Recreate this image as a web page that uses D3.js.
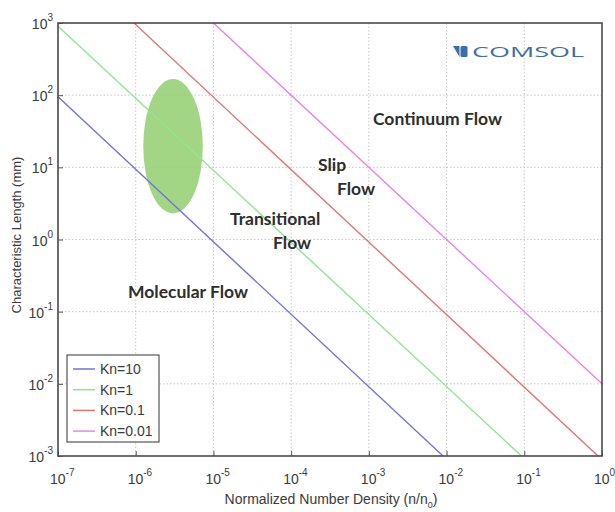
<!DOCTYPE html>
<html><head><meta charset="utf-8">
<script src="https://cdn.jsdelivr.net/npm/d3@7"></script>
<style>
body{margin:0;background:#fff;}
svg{display:block;}
</style></head>
<body>
<svg id="chart" width="615" height="512"></svg>
<script>
// ---- data ----
const seriesNames = ["Kn=10", "Kn=1", "Kn=0.1", "Kn=0.01"];
const seriesColors = ["#7272e0", "#8fe68f", "#e07676", "#e884e8"];
const kn10 = [[1e-7, 95], [9e-3, 1e-3]];
const kn1 = [[1e-7, 900], [9.2e-2, 1e-3]];
const kn01 = [[9.5e-7, 1000], [0.89, 1e-3]];
const kn001 = [[1e-5, 1000], [1, 1e-2]];
const seriesData = [kn10, kn1, kn01, kn001];
const xTickExps = [-7, -6, -5, -4, -3, -2, -1, 0];
const yTickExps = [-3, -2, -1, 0, 1, 2, 3];
// region label text lines, anchored at their left/baseline point in data units
const labelTexts = ["Continuum Flow", "Slip", "Flow", "Transitional", "Flow", "Molecular Flow"];
const labelN = [1.13e-3, 2.22e-4, 3.89e-4, 1.63e-5, 5.85e-5, 7.96e-7];
const labelL = [38.6, 8.9, 4.14, 1.59, 0.74, 0.155];
// highlighted region (ellipse) bounds in data units
const ellipseN = [1.25e-6, 7.3e-6];
const ellipseL = [2.3, 167];

// ---- layout ----
const svg = d3.select("#chart");
const m = {left: 58, top: 23, right: 602, bottom: 456};
const x = d3.scaleLog().domain([1e-7, 1]).range([m.left, m.right]);
const y = d3.scaleLog().domain([1e-3, 1e3]).range([m.bottom, m.top]);
const tickFont = "'Liberation Sans', Arial, sans-serif";
const tickColor = "#3a3a3a";

// grid
const grid = svg.append("g");
xTickExps.slice(1, -1).forEach(e => {
  grid.append("line").attr("x1", x(10 ** e)).attr("x2", x(10 ** e))
    .attr("y1", m.top).attr("y2", m.bottom)
    .attr("stroke", "#b8b8b8").attr("stroke-width", 0.8).attr("stroke-dasharray", "1.5,2");
});
yTickExps.slice(1, -1).forEach(e => {
  grid.append("line").attr("y1", y(10 ** e)).attr("y2", y(10 ** e))
    .attr("x1", m.left).attr("x2", m.right)
    .attr("stroke", "#b8b8b8").attr("stroke-width", 0.8).attr("stroke-dasharray", "1.5,2");
});

// axes with tick marks (inside), labels drawn separately with superscripts
const xAxis = d3.axisBottom(x).tickValues(xTickExps.map(e => 10 ** e)).tickSize(-5).tickFormat("");
const yAxis = d3.axisLeft(y).tickValues(yTickExps.map(e => 10 ** e)).tickSize(-5).tickFormat("");
const gx = svg.append("g").attr("transform", `translate(0,${m.bottom})`).call(xAxis);
const gy = svg.append("g").attr("transform", `translate(${m.left},0)`).call(yAxis);
[gx, gy].forEach(g => {
  g.select(".domain").remove();
  g.selectAll(".tick line").attr("stroke", "#555");
});

// ellipse region
const ex0 = x(ellipseN[0]), ex1 = x(ellipseN[1]);
const ey0 = y(ellipseL[1]), ey1 = y(ellipseL[0]);
svg.append("ellipse")
  .attr("cx", (ex0 + ex1) / 2).attr("cy", (ey0 + ey1) / 2)
  .attr("rx", (ex1 - ex0) / 2).attr("ry", (ey1 - ey0) / 2)
  .attr("fill", "#96d073").attr("opacity", 0.88);

// lines
const line = d3.line().x(d => x(d[0])).y(d => y(d[1]));
seriesData.forEach((d, i) => {
  svg.append("path").attr("d", line(d)).attr("fill", "none")
    .attr("stroke", seriesColors[i]).attr("stroke-width", 1.4);
});

// frame
svg.append("rect").attr("x", m.left).attr("y", m.top)
  .attr("width", m.right - m.left).attr("height", m.bottom - m.top)
  .attr("fill", "none").attr("stroke", "#4a4a4a").attr("stroke-width", 1.6);

// x tick labels
xTickExps.forEach(e => {
  const t = svg.append("text").attr("x", x(10 ** e) - 8).attr("y", 484)
    .attr("font-family", tickFont).attr("font-size", 14).attr("fill", tickColor);
  t.append("tspan").text("10");
  t.append("tspan").attr("dy", -8).attr("font-size", 10).text(e);
});
// y tick labels
yTickExps.forEach(e => {
  const t = svg.append("text").attr("x", 53).attr("y", y(10 ** e) + 6)
    .attr("text-anchor", "end")
    .attr("font-family", tickFont).attr("font-size", 14).attr("fill", tickColor);
  t.append("tspan").text("10");
  t.append("tspan").attr("dy", -8).attr("font-size", 10).text(e);
});

// axis titles
const xt = svg.append("text").attr("x", 331).attr("y", 504).attr("text-anchor", "middle")
  .attr("font-family", tickFont).attr("font-size", 14).attr("fill", tickColor);
xt.append("tspan").text("Normalized Number Density (n/n");
xt.append("tspan").attr("dy", 4).attr("font-size", 9).text("0");
xt.append("tspan").attr("dy", -4).text(")");
svg.append("text").attr("transform", "translate(21,235) rotate(-90)")
  .attr("text-anchor", "middle").attr("font-family", tickFont).attr("font-size", 13)
  .attr("fill", tickColor).text("Characteristic Length (mm)");

// region labels
labelTexts.forEach((s, i) => {
  svg.append("text").attr("x", x(labelN[i])).attr("y", y(labelL[i]))
    .attr("font-family", "Lato, 'Open Sans', sans-serif").attr("font-weight", 700)
    .attr("font-size", 17.5).attr("fill", "#2e2e2e").text(s);
});

// legend
const lg = svg.append("g");
lg.append("rect").attr("x", 67).attr("y", 355).attr("width", 92).attr("height", 87)
  .attr("fill", "#fff").attr("stroke", "#555").attr("stroke-width", 1.2);
seriesNames.forEach((name, i) => {
  const yy = 369 + i * 20.7;
  lg.append("line").attr("x1", 73).attr("x2", 95).attr("y1", yy).attr("y2", yy)
    .attr("stroke", seriesColors[i]).attr("stroke-width", 1.5);
  lg.append("text").attr("x", 100).attr("y", yy + 5).attr("font-family", tickFont)
    .attr("font-size", 14).attr("fill", tickColor).text(name);
});

// COMSOL logo
const logo = svg.append("g").attr("transform", "translate(453,46)");
logo.append("path").attr("d", "M0,0 L6.5,0 L6.5,11 Z").attr("fill", "#3c6ea8");
logo.append("rect").attr("x", 7.5).attr("y", 0).attr("width", 7).attr("height", 11).attr("rx", 1.5).attr("fill", "#3c6ea8");
logo.append("text").attr("x", 19).attr("y", 11).attr("font-family", "'Open Sans', Lato, sans-serif")
  .attr("font-size", 15).attr("font-weight", 400).attr("textLength", 112).attr("lengthAdjust", "spacingAndGlyphs")
  .attr("fill", "#3c6ea8").text("COMSOL");
</script>
</body></html>
